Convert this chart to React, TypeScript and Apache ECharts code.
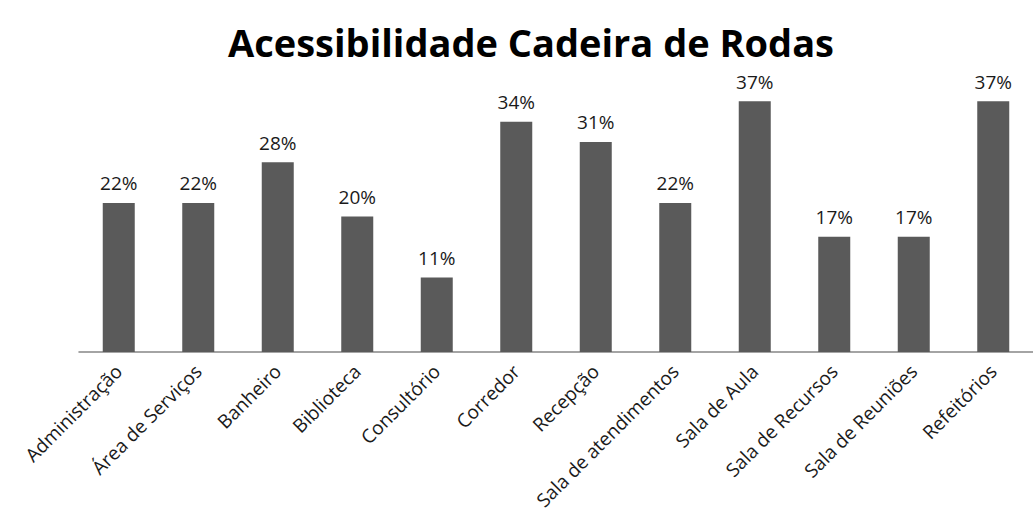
import React, { useEffect, useRef } from "react";
import * as echarts from "echarts";

const categories = [
  "Administração",
  "Área de Serviços",
  "Banheiro",
  "Biblioteca",
  "Consultório",
  "Corredor",
  "Recepção",
  "Sala de atendimentos",
  "Sala de Aula",
  "Sala de Recursos",
  "Sala de Reuniões",
  "Refeitórios",
];
const values = [22, 22, 28, 20, 11, 34, 31, 22, 37, 17, 17, 37];
const titleText = "Acessibilidade Cadeira de Rodas";

export default function App() {
  const ref = useRef<HTMLDivElement>(null);
  useEffect(() => {
    if (!ref.current) return;
    const chart = echarts.init(ref.current, null, { renderer: "svg" });
    chart.setOption({
      animation: false,
      backgroundColor: "#ffffff",
      title: {
        text: titleText,
        left: 223,
        top: 18,
        textStyle: {
          fontFamily: "Open Sans",
          fontWeight: "bold",
          fontSize: 38,
          color: "#000000",
        },
      },
      grid: { left: 79, right: -9, top: 81, bottom: 164, containLabel: false },
      xAxis: {
        type: "category",
        data: categories,
        axisLine: { lineStyle: { color: "#868686", width: 1.5 } },
        axisTick: { show: false },
        axisLabel: {
          interval: 0,
          rotate: 45,
          fontFamily: "Open Sans",
          fontSize: 19,
          color: "#1a1a1a",
          margin: 16,
        },
      },
      yAxis: {
        type: "value",
        min: 0,
        max: 40,
        show: false,
        splitLine: { show: false },
      },
      series: [
        {
          type: "bar",
          data: values,
          barWidth: 32,
          itemStyle: { color: "#5a5a5a" },
          label: {
            show: true,
            position: "top",
            distance: 10,
            formatter: "{c}%",
            fontFamily: "Open Sans",
            fontSize: 19,
            color: "#1a1a1a",
          },
        },
      ],
    });
    return () => chart.dispose();
  }, []);
  return (
    <div
      ref={ref}
      style={{ position: "absolute", left: 0, top: 0, width: 1033, height: 516 }}
    />
  );
}
